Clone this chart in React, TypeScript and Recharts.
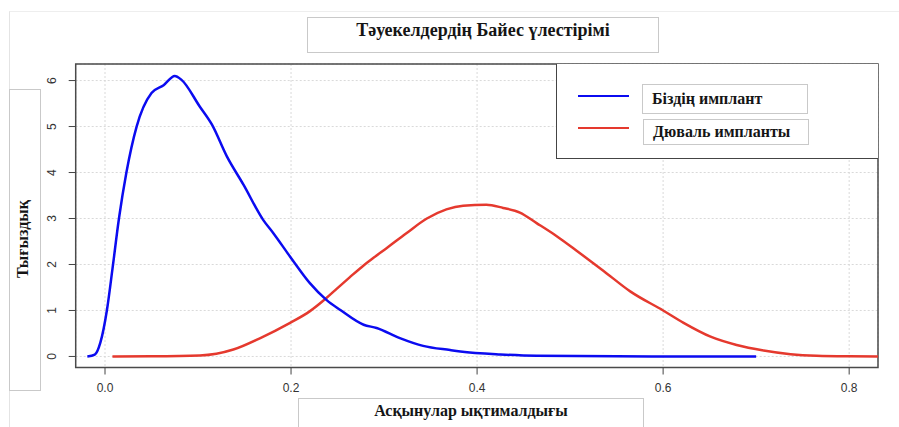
import React from "react";
import {
  LineChart, Line, XAxis, YAxis, CartesianGrid, Legend, ReferenceArea,
} from "recharts";

// Біздің имплант (blue density)
const oursX = [
  -0.019, -0.011, -0.005, 0.002, 0.008, 0.015, 0.023, 0.034, 0.05, 0.063,
  0.075, 0.082, 0.102, 0.115, 0.131, 0.149, 0.17, 0.181, 0.199, 0.22,
  0.238, 0.253, 0.278, 0.292, 0.317, 0.342, 0.371, 0.382, 0.425, 0.464,
  0.55, 0.63, 0.7,
];
const oursY = [
  0, 0.04, 0.3, 1.0, 1.9, 3.0, 4.0, 5.0, 5.73, 5.9,
  6.1, 6.02, 5.43, 5.04, 4.35, 3.73, 2.97, 2.68, 2.17, 1.6,
  1.23, 1.01, 0.69, 0.62, 0.4, 0.23, 0.14, 0.11, 0.045, 0.015,
  0.003, 0.001, 0,
];

// Дюваль импланты (red density)
const duvalX = [
  0.008, 0.05, 0.102, 0.138, 0.167, 0.199, 0.22, 0.238, 0.249, 0.263,
  0.278, 0.289, 0.303, 0.324, 0.346, 0.367, 0.385, 0.41, 0.428, 0.446,
  0.464, 0.486, 0.507, 0.536, 0.565, 0.6, 0.622, 0.651, 0.679, 0.708,
  0.737, 0.765, 0.8, 0.831,
];
const duvalY = [
  0, 0.003, 0.02, 0.15, 0.4, 0.73, 0.98, 1.27, 1.47, 1.72,
  1.98, 2.15, 2.36, 2.68, 3.0, 3.2, 3.28, 3.3, 3.23, 3.13,
  2.9, 2.61, 2.3, 1.86, 1.41, 1.0, 0.73, 0.43, 0.25, 0.13,
  0.05, 0.015, 0.003, 0,
];

const xTicks = [0, 0.2, 0.4, 0.6, 0.8];
const yTicks = [0, 1, 2, 3, 4, 5, 6];
const xDomain = [-0.0315, 0.831];
const yDomain = [-0.24, 6.36];

const title = "Тәуекелдердің Байес үлестірімі";
const xLabel = "Асқынулар ықтималдығы";
const yLabel = "Тығыздық";
const oursName = "Біздің имплант";
const duvalName = "Дюваль импланты";

const oursData = oursX.map((x, i) => ({ x, y: oursY[i] }));
const duvalData = duvalX.map((x, i) => ({ x, y: duvalY[i] }));

const serif = "'Liberation Serif', 'DejaVu Serif', serif";
const sans = "'Liberation Sans', Arial, sans-serif";

const boxStyle: React.CSSProperties = {
  position: "absolute",
  border: "1px solid #c9c9c9",
  boxSizing: "border-box",
  background: "#fff",
};

const labelText: React.CSSProperties = {
  fontFamily: serif,
  fontWeight: "bold",
  fontSize: 16,
  color: "#151515",
  whiteSpace: "nowrap",
};

function YTick({ x, y, payload }: any) {
  return (
    <text
      x={x - 11}
      y={y}
      transform={`rotate(-90, ${x - 11}, ${y})`}
      textAnchor="middle"
      fontSize={12}
      fontFamily={sans}
      fill="#333"
    >
      {payload.value}
    </text>
  );
}

function LegendBox({ payload }: any) {
  const rows = payload ?? [];
  return (
    <div
      style={{
        position: "relative",
        width: 322,
        height: 95,
        borderLeft: "1.5px solid #444",
        borderBottom: "1.5px solid #444",
        boxSizing: "border-box",
        background: "#fff",
      }}
    >
      {rows.map((entry: any, i: number) => (
        <React.Fragment key={entry.value}>
          <div
            style={{
              position: "absolute",
              left: 21,
              top: i === 0 ? 31 : 62.5,
              width: 51,
              height: i === 0 ? 2 : 2.5,
              background: entry.color,
            }}
          />
          <div
            style={{
              ...boxStyle,
              left: 85 + i,
              top: i === 0 ? 20 : 55,
              width: 166,
              height: i === 0 ? 30 : 26,
              padding: "0 0 0 9px",
              display: "flex",
              alignItems: "center",
            }}
          >
            <span style={labelText}>{entry.value}</span>
          </div>
        </React.Fragment>
      ))}
    </div>
  );
}

export default function App() {
  return (
    <div
      style={{
        position: "absolute",
        left: 0,
        top: 0,
        width: 899,
        height: 427,
        overflow: "hidden",
        background: "#fff",
      }}
    >
      <div
        style={{
          position: "absolute",
          left: 9,
          top: 11,
          right: 0,
          bottom: 0,
          borderTop: "1px solid #eeeeee",
          borderLeft: "1px solid #e4e4e4",
        }}
      />
      <LineChart
        width={899}
        height={427}
        margin={{ top: 64, right: 21, bottom: 0, left: 0 }}
      >
        <CartesianGrid stroke="#d9d9d9" strokeDasharray="2 2" />
        <XAxis
          dataKey="x"
          type="number"
          domain={xDomain}
          ticks={xTicks}
          allowDataOverflow
          height={59.5}
          tickSize={7}
          tickMargin={9}
          axisLine={false}
          tickLine={{ stroke: "#444" }}
          tick={{ fontSize: 12, fontFamily: sans, fill: "#333" }}
          tickFormatter={(v: number) => v.toFixed(1)}
        />
        <YAxis
          dataKey="y"
          type="number"
          domain={yDomain}
          ticks={yTicks}
          allowDataOverflow
          width={75.7}
          tickSize={7}
          axisLine={false}
          tickLine={{ stroke: "#444" }}
          tick={<YTick />}
        />
        <ReferenceArea
          x1={xDomain[0]}
          x2={xDomain[1]}
          y1={yDomain[0]}
          y2={yDomain[1]}
          fill="none"
          stroke="#4a4a4a"
          strokeWidth={1.5}
          ifOverflow="visible"
        />
        <Line
          data={duvalData}
          dataKey="y"
          name={duvalName}
          type="monotone"
          stroke="#e5392e"
          strokeWidth={2.5}
          dot={false}
          isAnimationActive={false}
        />
        <Line
          data={oursData}
          dataKey="y"
          name={oursName}
          type="monotone"
          stroke="#0b0bf0"
          strokeWidth={2.5}
          dot={false}
          isAnimationActive={false}
        />
        <Legend
          layout="vertical"
          align="center"
          verticalAlign="middle"
          wrapperStyle={{ left: 556, top: 64, width: 322, height: 95 }}
          content={(props: any) => (
            <LegendBox
              payload={[...(props.payload ?? [])].sort((a: any, b: any) =>
                a.value === oursName ? -1 : b.value === oursName ? 1 : 0
              )}
            />
          )}
        />
      </LineChart>

      <div
        style={{
          ...boxStyle,
          left: 307,
          top: 17,
          width: 352,
          height: 36,
          display: "flex",
          justifyContent: "center",
          alignItems: "center",
          paddingBottom: 9,
        }}
      >
        <span style={{ ...labelText, fontSize: 18 }}>{title}</span>
      </div>

      <div
        style={{
          ...boxStyle,
          left: 9,
          top: 89,
          width: 32,
          height: 302,
        }}
      >
        <span
          style={{
            ...labelText,
            position: "absolute",
            left: 13,
            top: 149,
            transform: "translate(-50%, -50%) rotate(-90deg)",
          }}
        >
          {yLabel}
        </span>
      </div>

      <div
        style={{
          ...boxStyle,
          left: 298,
          top: 398,
          width: 346,
          height: 40,
          display: "flex",
          justifyContent: "center",
          paddingTop: 3,
        }}
      >
        <span style={labelText}>{xLabel}</span>
      </div>
    </div>
  );
}
